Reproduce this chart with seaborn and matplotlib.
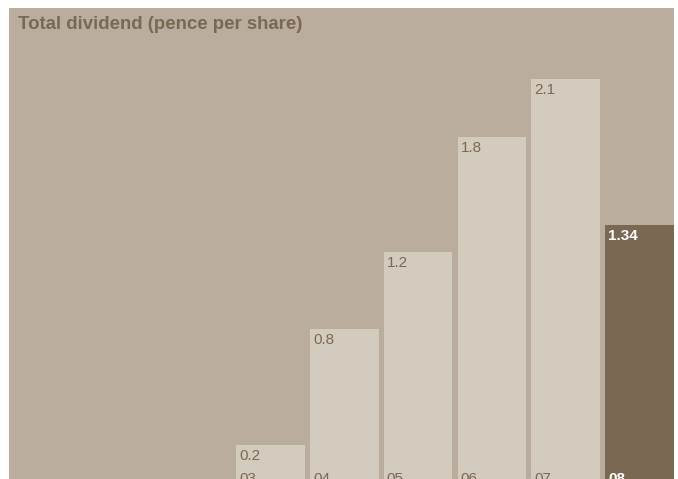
import matplotlib
matplotlib.use("Agg")
import matplotlib.pyplot as plt
import seaborn as sns

# Total dividend per year (pence per share)
years = ["03", "04", "05", "06", "07", "08"]
dividend = [0.2, 0.8, 1.2, 1.8, 2.1, 1.34]
highlight_year = "08"

BG = "#BAAD9E"
BAR = "#D4CBBF"
DARK = "#7A6852"
TEXT = "#7A6852"

sns.set_theme(style="white")
plt.rcParams["font.family"] = ["Liberation Sans", "DejaVu Sans"]

W, H = 678, 479
fig = plt.figure(figsize=(W / 100, H / 100), dpi=100)
fig.patch.set_facecolor("white")
ax = fig.add_axes([9 / W, 0, 665 / W, 471 / H])
ax.set_facecolor(BG)

palette = {y: (DARK if y == highlight_year else BAR) for y in years}
sns.barplot(x=years, y=dividend, hue=years, palette=palette, order=years,
            width=0.93, saturation=1, linewidth=0, legend=False, ax=ax)

# baseline sits just below the lower edge of the panel
ax.set_xlim(-3.543, 5.467)
ax.set_ylim(0.021, 2.47)
for s in ax.spines.values():
    s.set_visible(False)
ax.set_xticks([])
ax.set_yticks([])
ax.set_xlabel("")
ax.set_ylabel("")

half = 0.93 / 2
for i, (yr, v) in enumerate(zip(years, dividend)):
    hi = yr == highlight_year
    col = "white" if hi else TEXT
    wt = "bold" if hi else "normal"
    label = f"{v:.2f}" if hi else f"{v:g}"
    ax.annotate(label, xy=(i - half, v), xytext=(3, -15),
                textcoords="offset pixels", ha="left", va="baseline",
                fontsize=11, color=col, fontweight=wt)
    ax.annotate(yr, xy=(i - half, 0), xytext=(3, 0),
                textcoords="offset pixels", ha="left", va="baseline",
                fontsize=11, color=col, fontweight=wt, annotation_clip=False)

fig.text(18 / W, 1 - 29 / H, "Total dividend (pence per share)",
         ha="left", va="baseline", fontsize=13.4, fontweight="bold", color=TEXT)

fig.savefig("out.png", dpi=100)
